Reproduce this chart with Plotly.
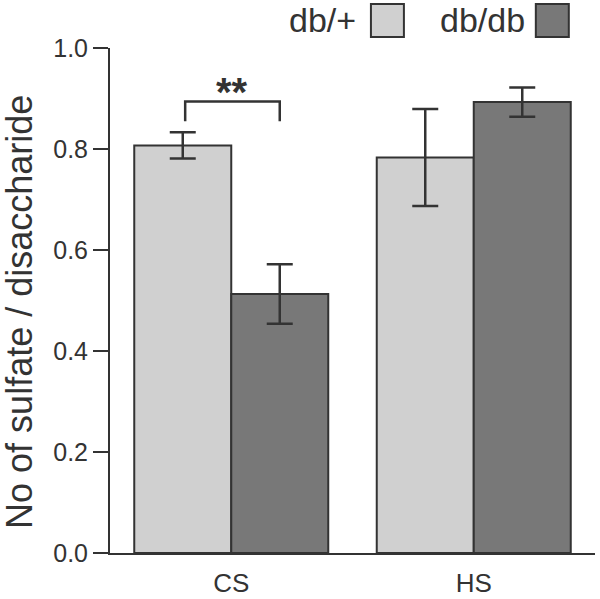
import plotly.graph_objects as go

categories = ["CS", "HS"]
groups = ["db/+", "db/db"]
values_dbplus = [0.807, 0.783]
errors_dbplus = [0.026, 0.096]
values_dbdb = [0.513, 0.893]
errors_dbdb = [0.059, 0.029]
colors = ["#d0d0d0", "#787878"]
y_ticks = [0.0, 0.2, 0.4, 0.6, 0.8, 1.0]
y_title = "No of sulfate / disaccharide"

edge = "#333333"
font_fam = "Liberation Sans, Arial, sans-serif"

fig = go.Figure()
for name, vals, errs, col in [(groups[0], values_dbplus, errors_dbplus, colors[0]),
                              (groups[1], values_dbdb, errors_dbdb, colors[1])]:
    fig.add_trace(go.Bar(
        x=categories, y=vals, name=name,
        marker=dict(color=col, line=dict(color=edge, width=2)),
        error_y=dict(type="data", array=errs, visible=True, color=edge,
                     thickness=2.5, width=13),
        showlegend=False,
    ))

# significance bracket
bx0, bx1, btop, bbot = -0.19, 0.2, 0.894, 0.855
fig.add_shape(type="path", xref="x", yref="y",
              path=f"M {bx0} {bbot} L {bx0} {btop} L {bx1} {btop} L {bx1} {bbot}",
              line=dict(color=edge, width=2.5))
fig.add_annotation(x=(bx0 + bx1) / 2, y=0.93, xref="x", yref="y", text="<b>**</b>",
                   showarrow=False, yanchor="middle", yshift=-9,
                   font=dict(size=40, color=edge, family=font_fam))

# y-axis title
fig.add_annotation(x=-0.188, y=0.477, xref="paper", yref="paper", text=y_title,
                   textangle=-90, showarrow=False, xanchor="center", yanchor="middle",
                   font=dict(size=36, color="#333333", family=font_fam))

# manual legend (text left of swatch)
leg = [(groups[0], colors[0], 0.511, 0.538), (groups[1], colors[1], 0.860, 0.878)]
for name, col, tx, sx in leg:
    fig.add_annotation(x=tx, y=1.0554, xref="paper", yref="paper", yanchor="middle",
                       xanchor="right", text=name, showarrow=False,
                       font=dict(size=34, color="#333333", family=font_fam))
    fig.add_shape(type="rect", xref="paper", yref="paper",
                  x0=sx, x1=sx + 0.068, y0=1.0218, y1=1.0871,
                  fillcolor=col, line=dict(color=edge, width=2))

fig.update_layout(
    width=600, height=599,
    margin=dict(l=110, r=5, t=48, b=46),
    paper_bgcolor="white", plot_bgcolor="white",
    barmode="group", bargap=0.2, bargroupgap=0,
    font=dict(family=font_fam, color="#333333"),
    xaxis=dict(range=[-0.5, 1.5], showline=True, linecolor=edge, linewidth=2,
               ticks="outside", ticklen=6, tickcolor="rgba(0,0,0,0)",
               tickfont=dict(size=26, color="#333333"), showgrid=False,
               zeroline=False, automargin=False),
    yaxis=dict(range=[0, 1.0], tickvals=y_ticks, ticktext=[f"{v:.1f}" for v in y_ticks],
               showline=True, linecolor=edge, linewidth=2, ticks="outside",
               ticklen=15, tickwidth=2, tickcolor=edge,
               tickfont=dict(size=25, color="#333333"), showgrid=False, zeroline=False,
               automargin=False),
)

fig.write_html("out.html", config={"displayModeBar": False},
               post_script="document.body.style.margin='0px';")
